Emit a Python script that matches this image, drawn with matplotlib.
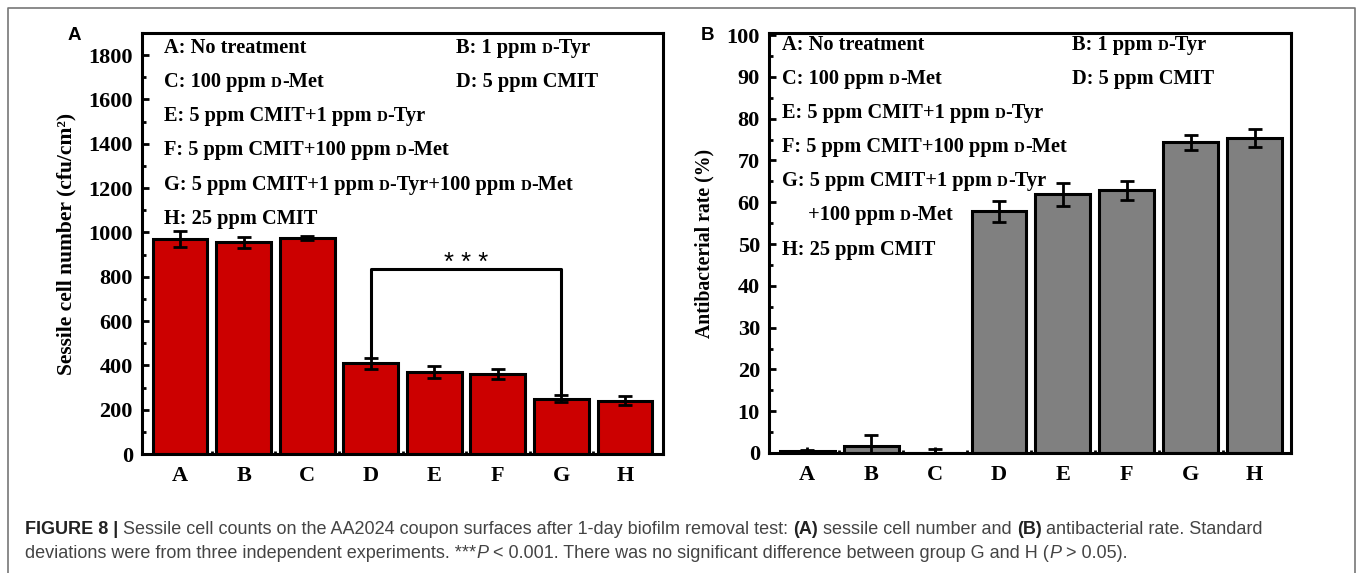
import numpy as np
import matplotlib.pyplot as plt
from matplotlib.lines import Line2D

# data
groups = ['A', 'B', 'C', 'D', 'E', 'F', 'G', 'H']
cells = [970, 955, 975, 410, 370, 360, 250, 240]
cells_err = [35, 25, 10, 25, 25, 22, 17, 20]
rate = [0.5, 1.7, -0.1, 57.8, 61.9, 62.9, 74.3, 75.4]
rate_err = [0.3, 2.5, 1.0, 2.5, 2.7, 2.3, 1.8, 2.1]

SERIF = 'Liberation Serif'
SANS = 'Liberation Sans'
SC = 0.74  # small caps scale for the "D" in D-Tyr / D-Met
W, H = 1357, 573

fig = plt.figure(figsize=(W / 100, H / 100), dpi=100)
# full-figure overlay in pixel units (y down) for texts and the frame
bg = fig.add_axes([0, 0, 1, 1])
bg.axis('off')
bg.set_xlim(0, W)
bg.set_ylim(H, 0)
bg.set_zorder(10)


def rich_text(x, y, segments, size, **kw):
    """Chain text pieces on one baseline: (text, scale, extra kwargs)."""
    prev = None
    for seg in segments:
        txt, scale = seg[0], seg[1]
        extra = seg[2] if len(seg) > 2 else {}
        opts = dict(kw)
        opts.update(extra)
        if prev is None:
            prev = bg.annotate(txt, xy=(x, y), xycoords='data',
                               va='baseline', ha='left',
                               fontsize=size * scale, **opts)
        else:
            prev = bg.annotate(txt, xy=(1, y), xycoords=(prev, bg.transData),
                               va='baseline', ha='left',
                               fontsize=size * scale, **opts)
    return prev


def legend_lines(rows, size):
    for x, yc, segs in rows:
        # yc is the visual middle of the capitals, baseline sits below it
        rich_text(x, yc + 6.8, segs, size, family=SERIF, fontweight='bold',
                  color='black')


def dseg(pre, post):
    return [(pre, 1.0), ('D', SC), (post, 1.0)]


# frame around the whole figure (open at the bottom)
bg.add_line(Line2D([7.5, 7.5, 1355, 1355], [H, 8, 8, H],
                   color='#777777', lw=1.2))

axA = fig.add_axes([142 / W, 1 - 454 / H, 521 / W, 421 / H])
axB = fig.add_axes([769 / W, 1 - 453 / H, 522 / W, 420 / H])

x = np.arange(len(groups))


def style_axis(ax, major, minor, ymin, ymax, xmin, xmax):
    ax.set_ylim(ymin, ymax)
    ax.set_xlim(xmin, xmax)
    ax.set_xticks(x)
    ax.set_xticklabels(groups)
    ax.set_xticks(x[:-1] + 0.5, minor=True)
    ax.set_yticks(np.arange(0, ymax, major))
    ax.set_yticks(np.arange(0, ymax, minor), minor=True)
    for s in ax.spines.values():
        s.set_linewidth(2.2)
    ax.tick_params(axis='both', which='both', direction='in', width=2,
                   top=False, right=False)
    ax.tick_params(axis='y', which='major', length=5, pad=6.5)
    ax.tick_params(axis='y', which='minor', length=3)
    ax.tick_params(axis='x', which='major', length=4, pad=8.5)
    ax.tick_params(axis='x', which='minor', length=2)
    for lab in ax.get_xticklabels() + ax.get_yticklabels():
        lab.set_family(SERIF)
        lab.set_fontweight('bold')
        lab.set_fontsize(16)


# ---- panel A ----
axA.bar(x, cells, width=0.86, color='#cc0000', edgecolor='black',
        linewidth=2.2, zorder=2)
axA.errorbar(x, cells, yerr=cells_err, fmt='none', ecolor='black',
             elinewidth=2, capsize=5.2, capthick=2, zorder=3)
style_axis(axA, 200, 100, 0, 1900, -0.6, 7.6)
axA.set_ylabel('Sessile cell number (cfu/cm²)', family=SERIF,
               fontweight='bold', fontsize=15.5)
axA.yaxis.set_label_coords(-0.125, 0.5)

# significance bracket D vs G
axA.plot([3, 3, 6, 6], [435, 835, 835, 272], color='black', lw=2.2)
axA.text(4.5, 862, '* * *', ha='center', va='center', fontsize=18.5,
         family=SANS)

rowsA = [
    (164, 46, [('A: No treatment', 1.0)]),
    (456, 46, dseg('B: 1 ppm ', '-Tyr')),
    (164, 80, dseg('C: 100 ppm ', '-Met')),
    (456, 80, [('D: 5 ppm CMIT', 1.0)]),
    (164, 114, dseg('E: 5 ppm CMIT+1 ppm ', '-Tyr')),
    (164, 148, dseg('F: 5 ppm CMIT+100 ppm ', '-Met')),
    (164, 183, [('G: 5 ppm CMIT+1 ppm ', 1.0), ('D', SC),
                ('-Tyr+100 ppm ', 1.0), ('D', SC), ('-Met', 1.0)]),
    (164, 217, [('H: 25 ppm CMIT', 1.0)]),
]
legend_lines(rowsA, 14.7)
bg.text(74, 35, 'A', family=SANS, fontweight='bold', fontsize=13.5,
        ha='center', va='center')

# ---- panel B ----
axB.bar(x, rate, width=0.86, color='#808080', edgecolor='black',
        linewidth=2.2, zorder=2)
axB.errorbar(x, rate, yerr=rate_err, fmt='none', ecolor='black',
             elinewidth=2, capsize=5.2, capthick=2, zorder=3)
style_axis(axB, 10, 5, 0, 100.5, -0.6, 7.57)
axB.set_ylabel('Antibacterial rate (%)', family=SERIF, fontweight='bold',
               fontsize=14.2)
axB.yaxis.set_label_coords(-0.105, 0.5)

rowsB = [
    (782, 43, [('A: No treatment', 1.0)]),
    (1072, 43, dseg('B: 1 ppm ', '-Tyr')),
    (782, 77, dseg('C: 100 ppm ', '-Met')),
    (1072, 77, [('D: 5 ppm CMIT', 1.0)]),
    (782, 111, dseg('E: 5 ppm CMIT+1 ppm ', '-Tyr')),
    (782, 145, dseg('F: 5 ppm CMIT+100 ppm ', '-Met')),
    (782, 179, dseg('G: 5 ppm CMIT+1 ppm ', '-Tyr')),
    (808, 213, dseg('+100 ppm ', '-Met')),
    (782, 248, [('H: 25 ppm CMIT', 1.0)]),
]
legend_lines(rowsB, 14.7)
bg.text(708, 35, 'B', family=SANS, fontweight='bold', fontsize=13.5,
        ha='center', va='center')

# ---- caption ----
BOLD = {'fontweight': 'bold', 'color': '#222222'}
ITAL = {'style': 'italic'}
line1 = [('FIGURE 8 | ', 1.0, BOLD),
         ('Sessile cell counts on the AA2024 coupon surfaces after 1-day '
          'biofilm removal test: ', 1.0),
         ('(A)', 1.0, BOLD), (' sessile cell number and ', 1.0),
         ('(B)', 1.0, BOLD), (' antibacterial rate. Standard', 1.0)]
line2 = [('deviations were from three independent experiments. ***', 1.0),
         ('P', 1.0, ITAL),
         (' < 0.001. There was no significant difference between group G '
          'and H (', 1.0),
         ('P', 1.0, ITAL), (' > 0.05).', 1.0)]
rich_text(25, 534.5, line1, 13, family=SANS, color='#444444')
rich_text(25, 557.5, line2, 13, family=SANS, color='#444444')

fig.savefig('out.png', dpi=100)
